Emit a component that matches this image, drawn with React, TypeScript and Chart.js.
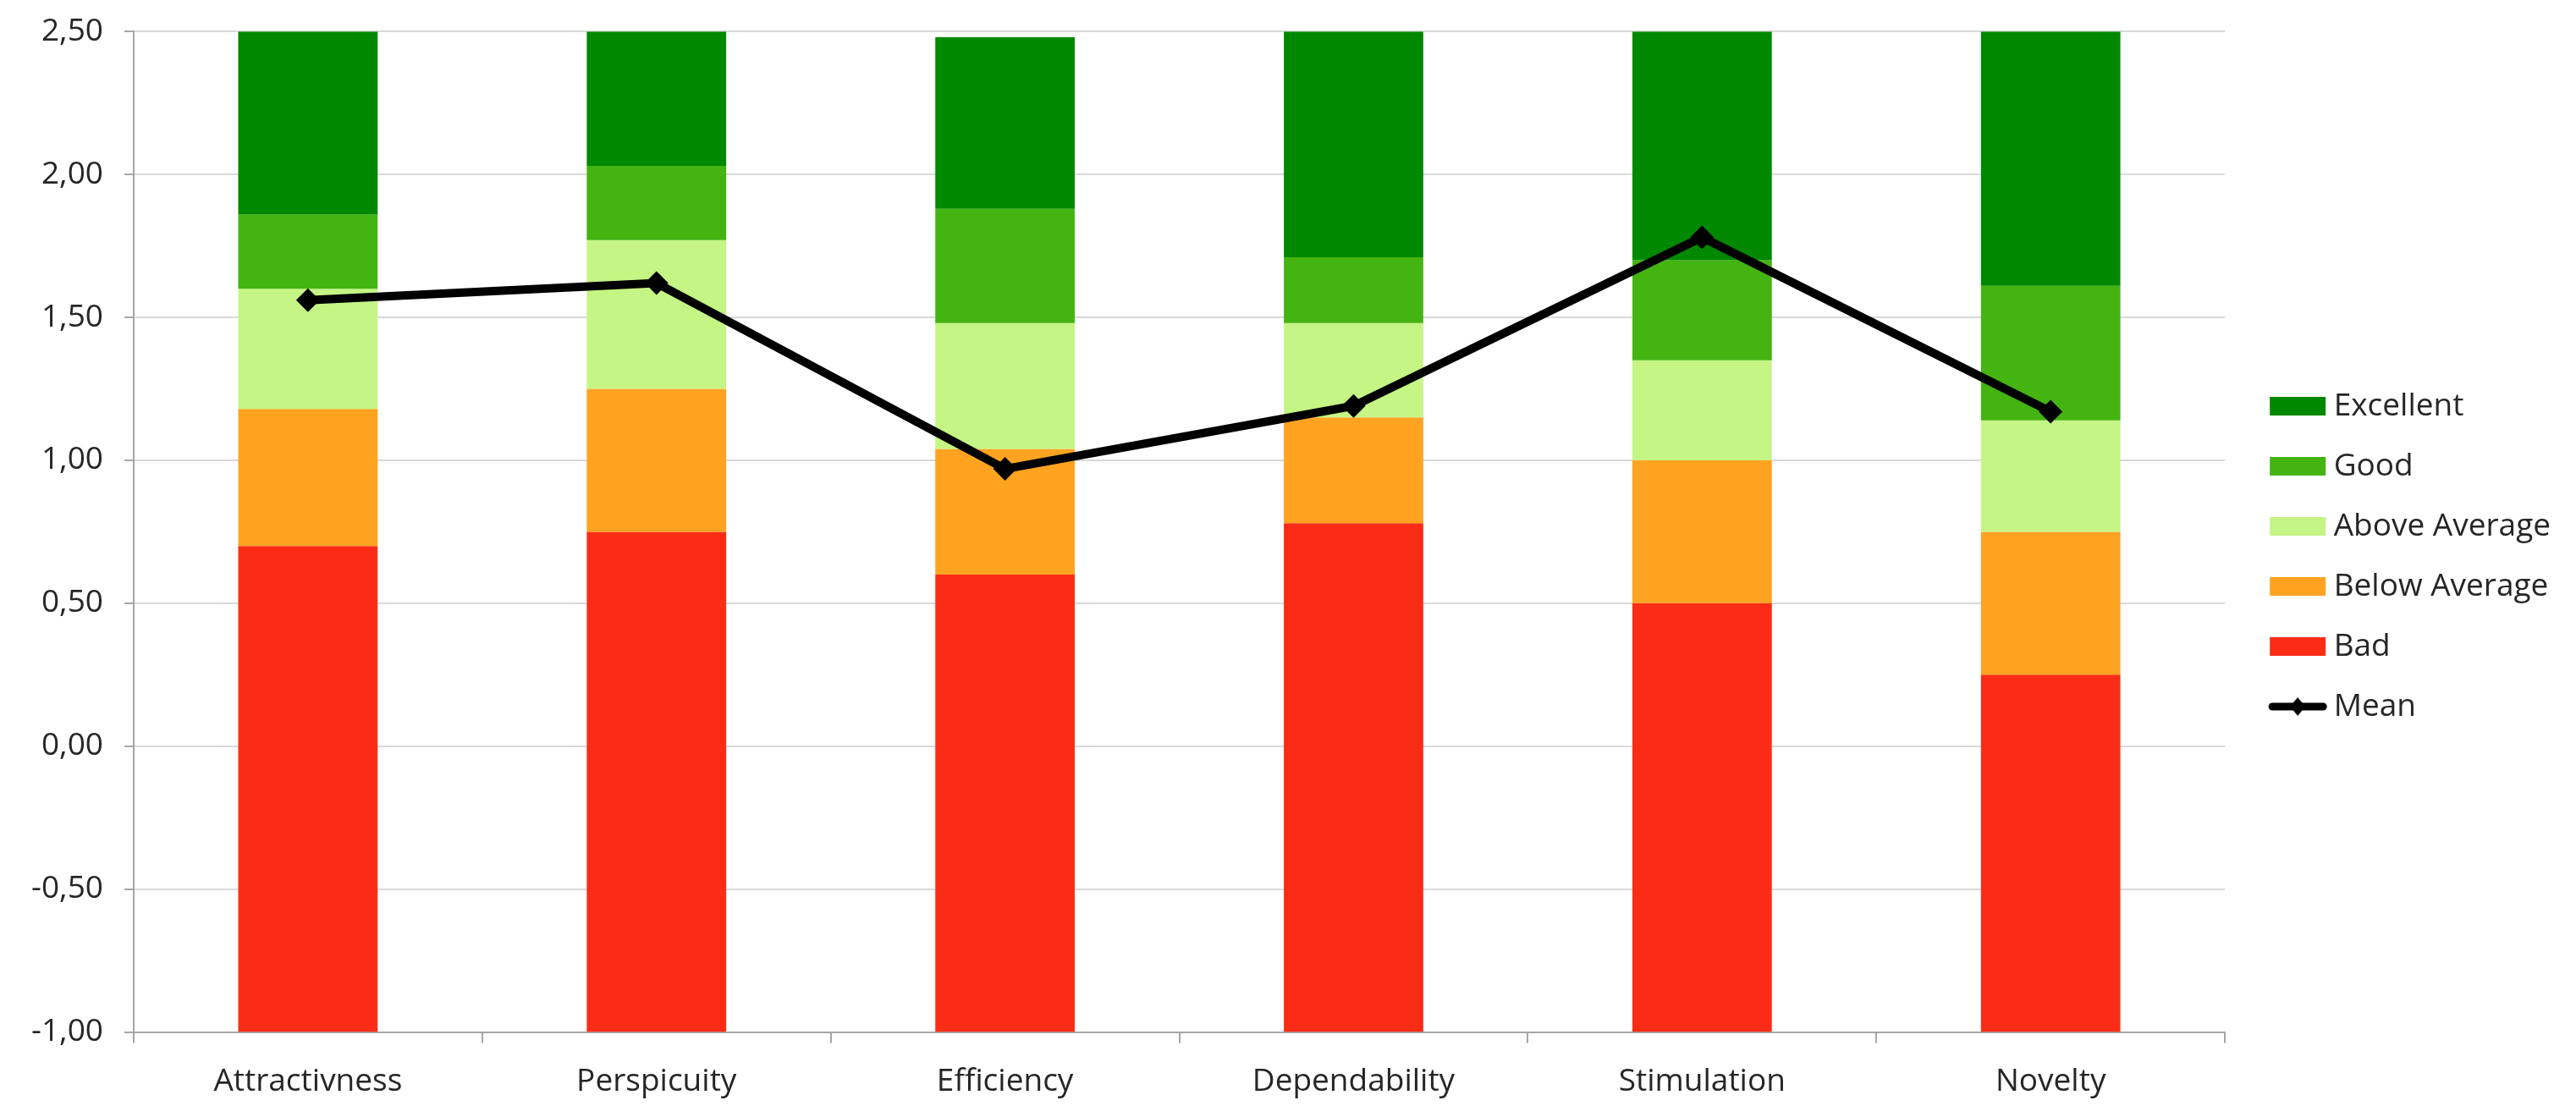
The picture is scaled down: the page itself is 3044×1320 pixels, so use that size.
import { useEffect, useRef } from "react";
import { Chart, registerables } from "chart.js";

Chart.register(...registerables);

const categories = ["Attractivness", "Perspicuity", "Efficiency", "Dependability", "Stimulation", "Novelty"];

// upper border of each benchmark band, per category
const badTop = [0.7, 0.75, 0.6, 0.78, 0.5, 0.25];
const belowAverageTop = [1.18, 1.25, 1.04, 1.15, 1.0, 0.75];
const aboveAverageTop = [1.6, 1.77, 1.48, 1.48, 1.35, 1.14];
const goodTop = [1.86, 2.03, 1.88, 1.71, 1.7, 1.61];
const excellentTop = [2.5, 2.5, 2.48, 2.5, 2.5, 2.5];

const mean = [1.56, 1.62, 0.97, 1.19, 1.78, 1.17];

const axisMin = -1;
const axisMax = 2.5;

const FONT = "'Open Sans', 'Noto Sans', sans-serif";
const FONT_SIZE = 37;

// legend swatch geometry
const SWATCH_SLOT = 76;
const SWATCH_W = 66;
const SWATCH_H = 22;
const SWATCH_OFFSET = 19;

function band(lower: number[], upper: number[]) {
  return upper.map((u, i) => [lower[i], u]);
}

// image twice the slot wide, centred on the slot, swatch drawn at the offset
function legendIcon(color: string, isLine: boolean) {
  const c = document.createElement("canvas");
  c.width = SWATCH_SLOT * 2;
  c.height = 30;
  const ctx = c.getContext("2d")!;
  const x0 = SWATCH_SLOT / 2 + SWATCH_OFFSET;
  const cy = c.height / 2;
  ctx.fillStyle = color;
  ctx.strokeStyle = color;
  if (isLine) {
    ctx.lineWidth = 9;
    ctx.lineCap = "round";
    ctx.beginPath();
    ctx.moveTo(x0 + 3, cy);
    ctx.lineTo(x0 + SWATCH_W - 3, cy);
    ctx.stroke();
    const mx = x0 + SWATCH_W / 2;
    ctx.beginPath();
    ctx.moveTo(mx, cy - 11);
    ctx.lineTo(mx + 9, cy);
    ctx.lineTo(mx, cy + 11);
    ctx.lineTo(mx - 9, cy);
    ctx.closePath();
    ctx.fill();
  } else {
    ctx.fillRect(x0, cy - SWATCH_H / 2, SWATCH_W, SWATCH_H);
  }
  return c;
}

export default function App() {
  const canvasRef = useRef<HTMLCanvasElement>(null);
  const chartRef = useRef<Chart | null>(null);

  useEffect(() => {
    document.body.style.margin = "0";
    if (!canvasRef.current) return;
    const ctx = canvasRef.current.getContext("2d");
    if (!ctx) return;
    if (chartRef.current) chartRef.current.destroy();

    const lows = new Array(categories.length).fill(axisMin);
    const bars = [
      { label: "Excellent", data: band(goodTop, excellentTop), backgroundColor: "#008800" },
      { label: "Good", data: band(aboveAverageTop, goodTop), backgroundColor: "#44b411" },
      { label: "Above Average", data: band(belowAverageTop, aboveAverageTop), backgroundColor: "#c5f584" },
      { label: "Below Average", data: band(badTop, belowAverageTop), backgroundColor: "#ffa321" },
      { label: "Bad", data: band(lows, badTop), backgroundColor: "#fa2c16" },
    ].map((d) => ({
      ...d,
      type: "bar" as const,
      order: 2,
      grouped: false,
      barPercentage: 0.4,
      categoryPercentage: 1,
      borderWidth: 0,
    }));

    chartRef.current = new Chart(ctx, {
      type: "bar",
      data: {
        labels: categories,
        datasets: [
          ...bars,
          {
            type: "line" as const,
            label: "Mean",
            data: mean,
            order: 1,
            borderColor: "#000",
            backgroundColor: "#000",
            borderWidth: 10,
            pointStyle: "rectRot",
            pointRadius: 14,
            pointBackgroundColor: "#000",
            pointBorderWidth: 0,
            tension: 0,
          },
        ] as any,
      },
      options: {
        responsive: true,
        maintainAspectRatio: false,
        animation: false,
        layout: { padding: { top: 0, left: 12, right: 20, bottom: -5 } },
        plugins: {
          tooltip: { enabled: false },
          legend: {
            position: "right",
            labels: {
              font: { family: FONT, size: FONT_SIZE },
              color: "#262626",
              usePointStyle: true,
              pointStyleWidth: SWATCH_SLOT,
              boxHeight: SWATCH_H,
              padding: 34,
              generateLabels: (chart) =>
                chart.data.datasets.map((ds: any, i) => ({
                  text: ds.label,
                  datasetIndex: i,
                  fillStyle: ds.backgroundColor,
                  strokeStyle: "rgba(0,0,0,0)",
                  lineWidth: 0,
                  fontColor: "#262626",
                  pointStyle: legendIcon(ds.backgroundColor, ds.type === "line"),
                  hidden: false,
                })),
            },
          },
        },
        scales: {
          x: {
            stacked: true,
            offset: true,
            grid: {
              drawOnChartArea: false,
              drawTicks: true,
              tickLength: 13,
              color: "#a6a6a6",
              lineWidth: 2,
            },
            border: { color: "#a6a6a6", width: 2 },
            ticks: {
              font: { family: FONT, size: FONT_SIZE },
              color: "#262626",
              padding: 24,
              maxRotation: 0,
            },
          },
          y: {
            stacked: false,
            min: axisMin,
            max: axisMax,
            grid: {
              color: "#d9d9d9",
              lineWidth: 2,
              tickLength: 11,
              tickColor: "#a6a6a6",
            },
            border: { color: "#a6a6a6", width: 2 },
            ticks: {
              stepSize: 0.5,
              font: { family: FONT, size: FONT_SIZE },
              color: "#262626",
              padding: 25,
              callback: (v) => Number(v).toFixed(2).replace(".", ","),
            },
          },
        },
      },
    });

    return () => {
      if (chartRef.current) {
        chartRef.current.destroy();
        chartRef.current = null;
      }
    };
  }, []);

  return (
    <div style={{ width: "3044px", height: "1330px", position: "relative", top: "-10px", background: "#fff" }}>
      <canvas ref={canvasRef} />
    </div>
  );
}
